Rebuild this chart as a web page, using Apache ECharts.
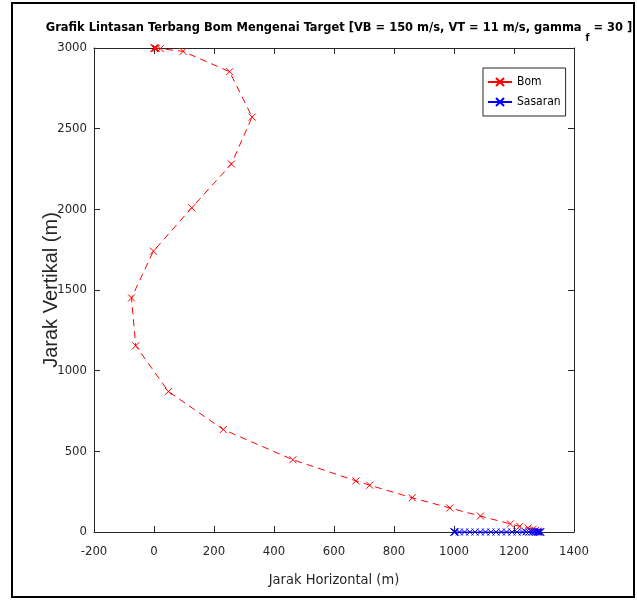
<!DOCTYPE html>
<html>
<head>
<meta charset="utf-8">
<script src="https://cdn.jsdelivr.net/npm/echarts@6/dist/echarts.min.js"></script>
<style>html,body{margin:0;padding:0;background:#fff;}#chart{width:637px;height:600px;}</style>
</head>
<body>
<div id="chart"></div>
<script>
// Bomb trajectory (Bom)
var bomX = [0, 1, 2, 4, 7, 21, 97, 252, 327, 258, 126, -2, -75, -61, 48, 231, 463, 673, 719, 861, 986, 1088, 1188, 1219, 1247, 1263, 1272, 1280, 1286];
var bomY = [3000, 3000, 3000, 2999, 2998, 2996, 2979, 2853, 2572, 2281, 2010, 1741, 1451, 1155, 871, 635, 448, 317, 290, 212, 149, 99, 50, 35, 25, 16, 10, 5, 0];
// Target (Sasaran)
var sasX = [1000, 1001, 1002, 1004, 1018, 1035, 1053, 1070, 1088, 1105, 1123, 1140, 1158, 1175, 1193, 1210, 1228, 1240, 1250, 1258, 1265, 1271, 1276, 1280, 1284, 1287, 1289];
var sasY = [0, 0, 0, 0, 0, 0, 0, 0, 0, 0, 0, 0, 0, 0, 0, 0, 0, 0, 0, 0, 0, 0, 0, 0, 0, 0, 0];
var xTicks = {min: -200, max: 1400, interval: 200};
var yTicks = {min: 0, max: 3000, interval: 500};

function pairs(xs, ys) { return xs.map(function (x, i) { return [x, ys[i]]; }); }
function plain(v) { return String(v); }

var NARROW = "'Liberation Sans Narrow', 'DejaVu Sans Condensed', sans-serif";
var AX = '#262626';
var xMark = 'path://M0,0L10,10M10,0L0,10';

var chart = echarts.init(document.getElementById('chart'), null, {renderer: 'canvas'});
var axisCommon = {
  axisLine: {show: true, onZero: false, lineStyle: {color: AX, width: 1}},
  axisTick: {show: true, inside: true, length: 6, lineStyle: {color: AX}},
  splitLine: {show: false}
};
chart.setOption({
  animation: false,
  backgroundColor: '#fff',
  title: {
    text: 'Grafik Lintasan Terbang Bom Mengenai Target [VB = 150 m/s, VT = 11 m/s, gamma {s|f} = 30 ]',
    left: 334, textAlign: 'center', top: 8,
    textStyle: {
      fontFamily: NARROW, fontWeight: 'bold', fontSize: 12.75, color: '#000',
      lineHeight: 16, verticalAlign: 'top',
      rich: {s: {fontFamily: NARROW, fontWeight: 'bold', fontSize: 10, lineHeight: 30, verticalAlign: 'bottom', color: '#000'}}
    }
  },
  legend: {
    orient: 'vertical', left: 483, top: 68,
    backgroundColor: '#fff', borderColor: AX, borderWidth: 1, borderRadius: 0,
    padding: [8, 5, 8, 4], itemGap: 8, itemWidth: 24, itemHeight: 10,
    lineStyle: {type: 'solid'},
    textStyle: {fontFamily: NARROW, fontSize: 12, color: '#000'},
    data: ['Bom', 'Sasaran']
  },
  grid: {left: 94, right: 63, top: 48, bottom: 68, containLabel: false},
  xAxis: [
    Object.assign({}, axisCommon, {
      type: 'value', position: 'bottom', min: xTicks.min, max: xTicks.max, interval: xTicks.interval,
      name: 'Jarak Horizontal (m)', nameLocation: 'middle', nameGap: 41, nameMoveOverlap: false,
      nameTextStyle: {fontFamily: NARROW, fontSize: 14.5, color: AX},
      axisLabel: {fontFamily: NARROW, fontSize: 13, color: AX, margin: 13, formatter: plain}
    }),
    Object.assign({}, axisCommon, {
      type: 'value', position: 'top', min: xTicks.min, max: xTicks.max, interval: xTicks.interval,
      axisLabel: {show: false}
    })
  ],
  yAxis: [
    Object.assign({}, axisCommon, {
      type: 'value', position: 'left', min: yTicks.min, max: yTicks.max, interval: yTicks.interval,
      name: 'Jarak Vertikal (m)', nameLocation: 'middle', nameGap: 33, nameMoveOverlap: false,
      nameTextStyle: {fontFamily: "'Liberation Sans', Arial, sans-serif", fontSize: 20, color: AX},
      axisLabel: {fontFamily: NARROW, fontSize: 13, color: AX, margin: 7, formatter: plain}
    }),
    Object.assign({}, axisCommon, {
      type: 'value', position: 'right', min: yTicks.min, max: yTicks.max, interval: yTicks.interval,
      axisLabel: {show: false}
    })
  ],
  graphic: [{
    type: 'rect', shape: {x: 12, y: 3, width: 622, height: 594},
    style: {fill: null, stroke: '#000', lineWidth: 2}, silent: true, z: 100
  }],
  series: [
    {
      name: 'Bom', type: 'line', data: pairs(bomX, bomY), clip: false,
      symbol: xMark, symbolSize: 7, showSymbol: true,
      itemStyle: {color: '#ff0000', borderColor: '#ff0000', borderWidth: 1},
      lineStyle: {color: '#ff0000', width: 1, type: [7, 5]},
      z: 3
    },
    {
      name: 'Sasaran', type: 'line', data: pairs(sasX, sasY), clip: false,
      symbol: xMark, symbolSize: 7, showSymbol: true,
      itemStyle: {color: '#0000ff', borderColor: '#0000ff', borderWidth: 1},
      lineStyle: {color: '#0000ff', width: 1, type: 'solid'},
      z: 4
    }
  ]
});
</script>
</body>
</html>
